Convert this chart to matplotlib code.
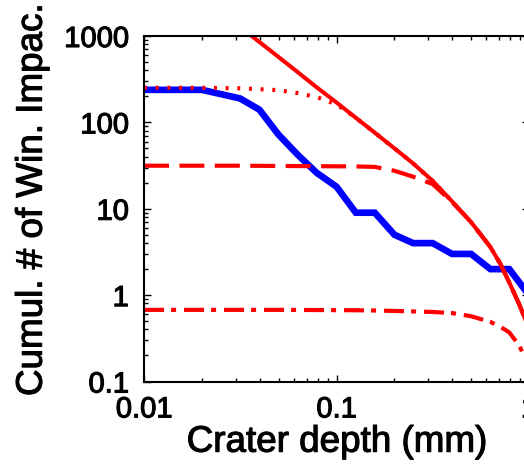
import numpy as np
import matplotlib
matplotlib.use("Agg")
import matplotlib.pyplot as plt
import matplotlib.patheffects as pe
from matplotlib.ticker import LogLocator, NullFormatter

plt.rcParams['font.family'] = ['Liberation Sans', 'DejaVu Sans']

# observed cumulative counts (blue)
obs_depth = [0.01, 0.02, 0.0316, 0.0398, 0.05, 0.063, 0.079, 0.1, 0.126, 0.158,
             0.2, 0.25, 0.316, 0.398, 0.5, 0.63, 0.79, 1.0]
obs_count = [238, 238, 189, 140, 72, 42, 26, 18, 9, 9,
             5, 4, 4, 3, 3, 2, 2, 1]

# model curves (red)
mod_depth = [0.0316, 0.0398, 0.05, 0.063, 0.079, 0.1, 0.126, 0.158, 0.2, 0.25,
             0.316, 0.398, 0.5, 0.63, 0.71, 0.79, 0.89, 1.0]
mod_all = [1270, 851, 571, 380, 254, 170, 113, 76, 50, 33.5,
           21, 12.2, 7.0, 3.6, 2.3, 1.4, 0.78, 0.41]

sat_depth = [0.01, 0.02, 0.0316, 0.0398, 0.05, 0.063, 0.079, 0.1, 0.126, 0.158,
             0.2, 0.25, 0.316, 0.398, 0.5, 0.63, 0.71, 0.79, 0.89, 1.0]
sat_dotted = [252, 251, 248, 242, 236, 218, 196, 162, 113, 76,
              50, 33.5, 21, 12.2, 7.0, 3.6, 2.3, 1.4, 0.78, 0.41]
sat_dashed = [31.5, 31.5, 31.5, 31.4, 31.3, 31.2, 31.1, 31, 30.9, 30.5,
              27.5, 23.5, 19.3, 12.0, 7.0, 3.6, 2.3, 1.4, 0.78, 0.41]
sat_dashdot = [0.675, 0.675, 0.675, 0.675, 0.675, 0.674, 0.672, 0.67, 0.668, 0.664,
               0.656, 0.648, 0.638, 0.62, 0.57, 0.49, 0.43, 0.37, 0.26, 0.15]

fig = plt.figure(figsize=(5.24, 4.67), dpi=100)
ax = fig.add_axes([144 / 524, 85.5 / 467, 385 / 524, 345.5 / 467])

ax.plot(obs_depth, obs_count, color='#0000ff', lw=4.8, solid_joinstyle='miter')
ax.plot(mod_depth, mod_all, color='#ff0000', lw=2.9)
ax.plot(sat_depth, sat_dotted, color='#ff0000', lw=3, linestyle=(0, (0.7, 2.1)))
ax.plot(sat_depth, sat_dashed, color='#ff0000', lw=3, linestyle=(0, (6, 2.5)))
ax.plot(sat_depth, sat_dashdot, color='#ff0000', lw=3, linestyle=(0, (4.8, 1.7, 1.2, 1.9)))

ax.set_xscale('log')
ax.set_yscale('log')
ax.set_xlim(0.01, 1)
ax.set_ylim(0.1, 1000)

ax.set_xticks([0.01, 0.1, 1])
ax.set_xticklabels(['0.01', '0.1', '1'])
ax.set_yticks([0.1, 1, 10, 100, 1000])
ax.set_yticklabels(['0.1', '1', '10', '100', '1000'])
ax.xaxis.set_minor_locator(LogLocator(base=10, subs=np.arange(2, 10)))
ax.yaxis.set_minor_locator(LogLocator(base=10, subs=np.arange(2, 10)))
ax.xaxis.set_minor_formatter(NullFormatter())
ax.yaxis.set_minor_formatter(NullFormatter())

ax.tick_params(which='both', direction='in', top=True, right=True, width=1, labelsize=21)
ax.tick_params(which='major', length=5)
ax.tick_params(which='minor', length=3)
ax.tick_params(axis='x', which='major', pad=10)
ax.tick_params(axis='y', which='major', pad=11)
for s in ax.spines.values():
    s.set_linewidth(1.5)

ax.set_xlabel('Crater depth (mm)', fontsize=26.5)
ax.set_ylabel('Cumul. # of Win. Impac.', fontsize=26.5)
ax.xaxis.set_label_coords(0.5, -0.125)
ax.yaxis.set_label_coords(-0.245, 0.525)

# heavier text rendering like the original
bold = [pe.withStroke(linewidth=0.8, foreground='black')]
for t in ax.get_xticklabels() + ax.get_yticklabels() + [ax.xaxis.label, ax.yaxis.label]:
    t.set_path_effects(bold)

fig.savefig('out.png', dpi=100)
